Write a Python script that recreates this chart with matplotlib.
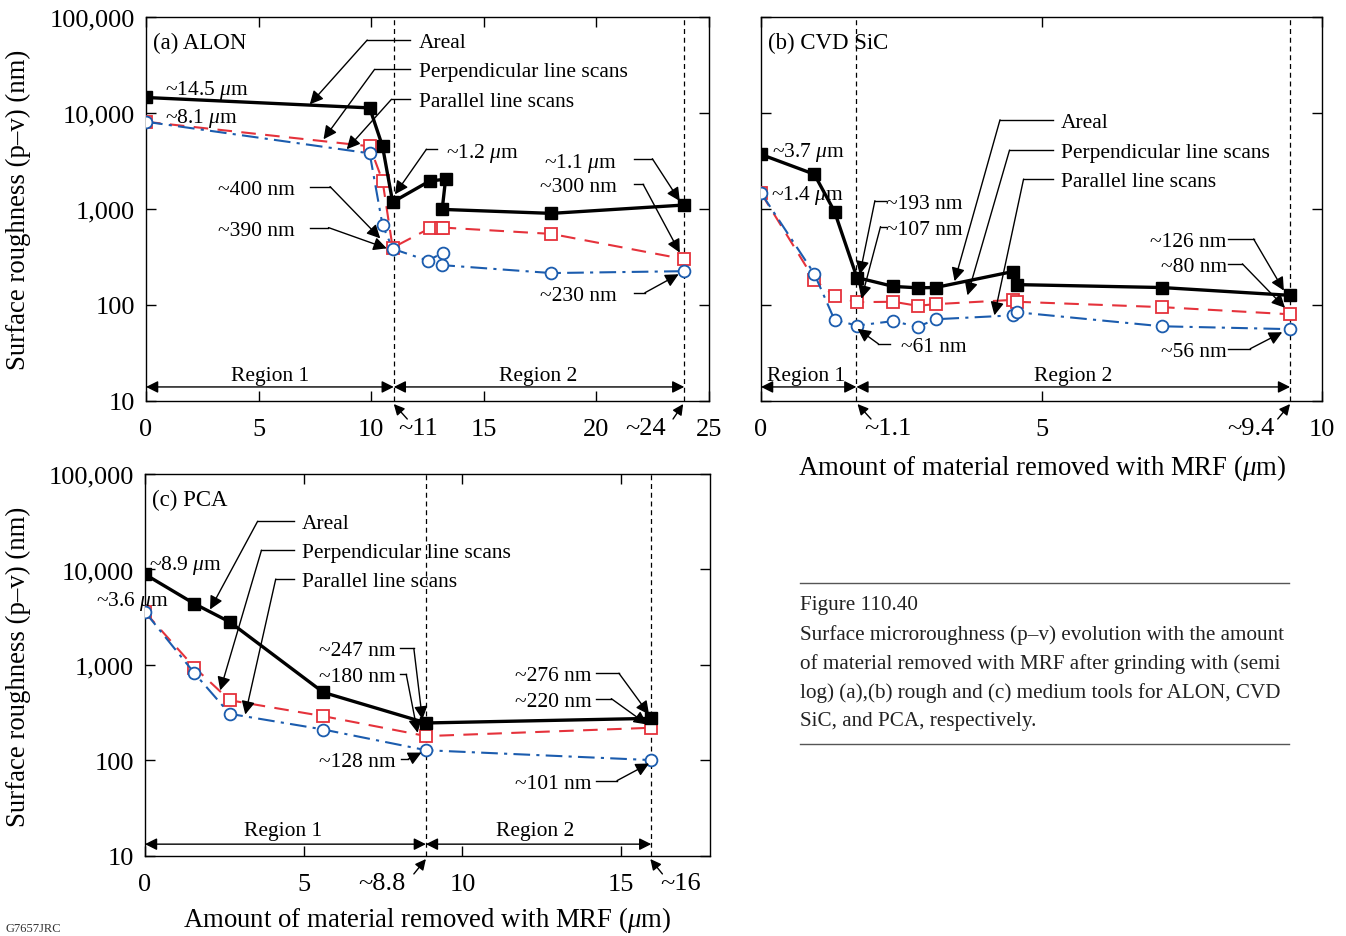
import matplotlib
matplotlib.use('Agg')
import matplotlib.pyplot as plt
import matplotlib.transforms as mtransforms
from matplotlib.ticker import FixedLocator, NullLocator

plt.rcParams['font.family'] = ['Liberation Serif', 'DejaVu Serif']
plt.rcParams['mathtext.fontset'] = 'custom'
plt.rcParams['mathtext.rm'] = 'Liberation Serif'
plt.rcParams['mathtext.it'] = 'Liberation Serif:italic'

RED = '#e5323b'
BLUE = '#1b5cae'
FS = 15.5     # annotation text
TFS = 19      # tick labels
LFS = 19.3    # axis labels
VA = 'center_baseline'

######## (a) ALON ########
a_areal_x = [0, 9.93, 10.5, 10.95, 12.6, 13.3, 13.15, 18.0, 23.9]
a_areal_y = [14500, 11300, 4500, 1180, 1960, 2040, 990, 900, 1100]
a_perp_x = [0, 9.93, 10.5, 10.95, 12.6, 13.1, 13.2, 18.0, 23.9]
a_perp_y = [8100, 4500, 1970, 395, 630, 630, 640, 550, 300]
a_par_x = [0, 9.93, 10.5, 10.95, 12.5, 13.2, 13.15, 18.0, 23.9]
a_par_y = [8100, 3800, 680, 385, 290, 350, 260, 215, 225]

######## (b) CVD SiC ########
b_areal_x = [0, 0.95, 1.31, 1.71, 2.36, 2.79, 3.11, 4.49, 4.56, 7.14, 9.43]
b_areal_y = [3700, 2300, 940, 193, 156, 151, 152, 223, 163, 152, 126]
b_perp_x = [0, 0.95, 1.31, 1.71, 2.36, 2.79, 3.11, 4.49, 4.56, 7.14, 9.43]
b_perp_y = [1470, 183, 124, 107, 108, 98, 102, 113, 108, 95, 80]
b_par_x = [0, 0.95, 1.31, 1.71, 2.36, 2.79, 3.11, 4.49, 4.56, 7.14, 9.43]
b_par_y = [1470, 211, 70, 61, 68, 59, 71, 78, 84, 60, 56]

######## (c) PCA ########
c_x = [0, 1.56, 2.67, 5.62, 8.86, 15.94]
c_areal_y = [8900, 4370, 2820, 516, 247, 276]
c_perp_y = [3580, 940, 427, 291, 180, 220]
c_par_y = [3600, 819, 308, 211, 128, 101]

yticks = [10, 100, 1000, 10000, 100000]
ytick_labels = ['10', '100', '1,000', '10,000', '100,000']

fig = plt.figure(figsize=(13.46, 9.37), dpi=100)
axA = fig.add_axes([0.1085, 0.571, 0.4183, 0.4098])
axB = fig.add_axes([0.5654, 0.571, 0.4168, 0.4098])
axC = fig.add_axes([0.1077, 0.0854, 0.4198, 0.4077])


def style_axis(ax, xmax, xticks, ylabels=True):
    ax.set_yscale('log')
    ax.set_ylim(10, 100000)
    ax.set_xlim(0, xmax)
    ax.yaxis.set_major_locator(FixedLocator(yticks))
    ax.yaxis.set_minor_locator(NullLocator())
    if ylabels:
        ax.set_yticklabels(ytick_labels)
    else:
        ax.set_yticklabels([])
    ax.set_xticks(xticks)
    ax.set_xticklabels([str(t) for t in xticks])
    ax.tick_params(direction='in', top=True, right=True, length=7, width=1,
                   labelsize=TFS)
    ax.tick_params(axis='x', pad=12)
    ax.tick_params(axis='y', pad=8)
    for s in ax.spines.values():
        s.set_linewidth(1.0)


def plot_series(ax, ax_x, ay, px, py, qx, qy):
    ax.plot(px, py, color=RED, lw=1.5, ls=(0, (7, 4.5)), marker='s', ms=9,
            mfc='white', mec=RED, mew=1.3, zorder=3)
    ax.plot(qx, qy, color=BLUE, lw=1.5, ls=(0, (8, 3, 1.5, 3)), marker='o', ms=8.5,
            mfc='white', mec=BLUE, mew=1.3, zorder=4)
    ax.plot(ax_x, ay, color='black', lw=2.4, marker='s', ms=8.5, mfc='black',
            mec='black', zorder=5)


def callout(ax, text, ha, tx, ty, sx, kx, px, py):
    ax.text(tx, ty, text, ha=ha, va=VA, fontsize=FS, zorder=6)
    ax.plot([sx, kx], [ty, ty], color='black', lw=1.0, zorder=6)
    ax.annotate('', xy=(px, py), xytext=(kx, ty),
                arrowprops=dict(arrowstyle='-|>', color='black', lw=1.0,
                                mutation_scale=20, shrinkA=0, shrinkB=0), zorder=6)


def regions(ax, split, end, yv, lab1x, lab2x, yl):
    for x0, x1 in [(0, split), (split, end)]:
        ax.annotate('', xy=(x1, yv), xytext=(x0, yv),
                    arrowprops=dict(arrowstyle='<|-|>', color='black', lw=1.0,
                                    mutation_scale=18, shrinkA=0, shrinkB=0))
    ax.text(lab1x, yl, 'Region 1', ha='center', va=VA, fontsize=FS)
    ax.text(lab2x, yl, 'Region 2', ha='center', va=VA, fontsize=FS)
    for xv in (split, end):
        ax.axvline(xv, color='black', lw=0.9, ls=(0, (4, 3)), zorder=1)


def extra_tick(ax, text, cx, tailx, tipx):
    tr = mtransforms.blended_transform_factory(ax.transData, ax.transAxes)
    ax.text(cx, -0.07, text, ha='center', va='center', fontsize=TFS,
            transform=tr, clip_on=False)
    ax.annotate('', xy=(tipx, -0.008), xytext=(tailx, -0.047),
                xycoords=tr, textcoords=tr, annotation_clip=False,
                arrowprops=dict(arrowstyle='-|>', color='black', lw=1.0,
                                mutation_scale=16, shrinkA=0, shrinkB=0))


# ---------- panel (a) ----------
style_axis(axA, 25, [0, 5, 10, 15, 20, 25])
plot_series(axA, a_areal_x, a_areal_y, a_perp_x, a_perp_y, a_par_x, a_par_y)
axA.text(0.012, 0.94, '(a) ALON', transform=axA.transAxes, fontsize=16.5, va=VA)
axA.text(0.86, 19100, r'~14.5 $\mu$m', fontsize=FS, va=VA)
axA.text(0.86, 9680, r'~8.1 $\mu$m', fontsize=FS, va=VA)
callout(axA, 'Areal', 'left', 12.1, 57500, 11.7, 9.82, 7.27, 12300)
callout(axA, 'Perpendicular line scans', 'left', 12.1, 28500, 11.7, 10.15, 7.88, 5320)
callout(axA, 'Parallel line scans', 'left', 12.1, 13900, 11.7, 10.9, 8.91, 4190)
callout(axA, r'~1.2 $\mu$m', 'left', 13.3, 4190, 12.94, 12.45, 11.05, 1420)
callout(axA, '~400 nm', 'right', 6.6, 1710, 7.27, 8.17, 10.4, 494)
callout(axA, '~390 nm', 'right', 6.6, 640, 7.27, 8.1, 10.69, 389)
callout(axA, r'~1.1 $\mu$m', 'right', 20.9, 3340, 21.66, 22.48, 23.7, 1210)
callout(axA, '~300 nm', 'right', 20.9, 1810, 21.66, 22.07, 23.7, 351)
callout(axA, '~230 nm', 'right', 20.9, 134, 21.66, 22.15, 23.65, 209)
regions(axA, 11.0, 23.9, 14, 5.5, 17.4, 19.5)
extra_tick(axA, '~11', 12.1, 11.6, 11.0)
extra_tick(axA, '~24', 22.2, 23.4, 23.85)

# ---------- panel (b) ----------
style_axis(axB, 10, [0, 5, 10], ylabels=False)
plot_series(axB, b_areal_x, b_areal_y, b_perp_x, b_perp_y, b_par_x, b_par_y)
axB.text(0.012, 0.94, '(b) CVD SiC', transform=axB.transAxes, fontsize=16.5, va=VA)
axB.text(0.2, 4280, r'~3.7 $\mu$m', fontsize=FS, va=VA)
axB.text(0.17, 1550, r'~1.4 $\mu$m', fontsize=FS, va=VA)
callout(axB, 'Areal', 'left', 5.35, 8490, 5.2, 4.26, 3.45, 177)
callout(axB, 'Perpendicular line scans', 'left', 5.35, 4110, 5.2, 4.43, 3.68, 126)
callout(axB, 'Parallel line scans', 'left', 5.35, 2050, 5.2, 4.68, 4.16, 78)
callout(axB, '~193 nm', 'left', 2.23, 1220, 2.22, 2.03, 1.76, 208)
callout(axB, '~107 nm', 'left', 2.23, 655, 2.22, 2.13, 1.79, 116)
callout(axB, '~61 nm', 'left', 2.5, 39.4, 2.3, 2.09, 1.72, 56.5)
callout(axB, '~126 nm', 'right', 8.3, 487, 8.32, 8.78, 9.32, 141)
callout(axB, '~80 nm', 'right', 8.3, 268, 8.32, 8.58, 9.34, 93.5)
callout(axB, '~56 nm', 'right', 8.3, 35, 8.32, 8.72, 9.29, 52)
regions(axB, 1.7, 9.43, 14, 0.8, 5.57, 19.5)
extra_tick(axB, '~1.1', 2.27, 1.96, 1.72)
extra_tick(axB, '~9.4', 8.73, 9.21, 9.43)

# ---------- panel (c) ----------
style_axis(axC, 17.8, [0, 5, 10, 15])
plot_series(axC, c_x, c_areal_y, c_x, c_perp_y, c_x, c_par_y)
axC.text(0.012, 0.94, '(c) PCA', transform=axC.transAxes, fontsize=16.5, va=VA)
axC.text(0.12, 12300, r'~8.9 $\mu$m', fontsize=FS, va=VA)
axC.text(0.75, 5130, r'~3.6 $\mu$m', fontsize=FS, va=VA, ha='right', clip_on=False)
callout(axC, 'Areal', 'left', 4.94, 32000, 4.7, 3.55, 2.05, 3810)
callout(axC, 'Perpendicular line scans', 'left', 4.94, 15900, 4.7, 3.67, 2.37, 542)
callout(axC, 'Parallel line scans', 'left', 4.94, 7940, 4.7, 4.12, 3.16, 303)
callout(axC, '~247 nm', 'right', 7.9, 1490, 8.02, 8.47, 8.74, 268)
callout(axC, '~180 nm', 'right', 7.9, 800, 8.02, 8.23, 8.59, 195)
callout(axC, '~128 nm', 'right', 7.9, 103, 8.05, 8.29, 8.71, 121)
callout(axC, '~276 nm', 'right', 14.06, 819, 14.22, 14.93, 15.88, 303)
callout(axC, '~220 nm', 'right', 14.06, 444, 14.22, 14.69, 15.82, 238)
callout(axC, '~101 nm', 'right', 14.06, 61.5, 14.22, 14.87, 15.88, 93)
regions(axC, 8.85, 15.95, 13.3, 4.36, 12.3, 19.5)
extra_tick(axC, '~8.8', 7.45, 8.47, 8.85)
extra_tick(axC, '~16', 16.88, 16.3, 15.92)

# ---------- labels ----------
ylab = 'Surface roughness (p\u2013v) (nm)'
fig.text(0.0134, 0.776, ylab, rotation=90, ha='center', va='center', fontsize=LFS)
fig.text(0.0134, 0.288, ylab, rotation=90, ha='center', va='center', fontsize=LFS)
xlab = r'Amount of material removed with MRF ($\mu$m)'
fig.text(0.774, 0.5005, xlab, ha='center', va='center', fontsize=LFS)
fig.text(0.317, 0.018, xlab, ha='center', va='center', fontsize=LFS)

# ---------- caption ----------
fig.add_artist(plt.Line2D([0.594, 0.958], [0.3767, 0.3767], color='#555555', lw=1.0))
fig.add_artist(plt.Line2D([0.594, 0.958], [0.2049, 0.2049], color='#555555', lw=1.0))
caption = ['Figure 110.40',
           'Surface microroughness (p\u2013v) evolution with the amount',
           'of material removed with MRF after grinding with (semi',
           'log) (a),(b) rough and (c) medium tools for ALON, CVD',
           'SiC, and PCA, respectively.']
cap_y = [0.354, 0.3223, 0.2914, 0.2604, 0.2295]
for line, yv in zip(caption, cap_y):
    fig.text(0.5944, yv, line, ha='left', va='center', fontsize=15.2, color='#222222')

fig.text(0.004, 0.009, 'G7657JRC', fontsize=9, va='center', ha='left', color='#333333')

fig.savefig('out.png', dpi=100)
